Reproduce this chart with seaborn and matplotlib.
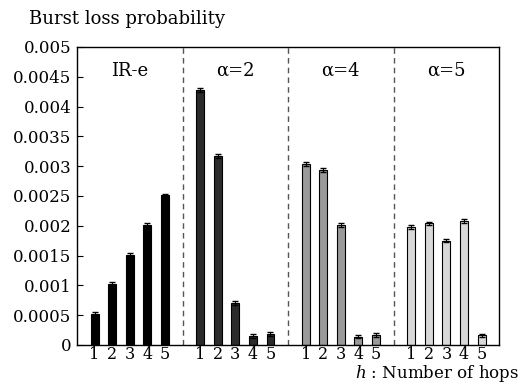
import numpy as np
import pandas as pd
import seaborn as sns
import matplotlib.pyplot as plt

# values
groups = ['IR-e', 'α=2', 'α=4', 'α=5']
hops = [1, 2, 3, 4, 5]
ir_e = [0.00052, 0.00103, 0.00151, 0.00202, 0.00251]
a2 = [0.00428, 0.00317, 0.00070, 0.00015, 0.00018]
a4 = [0.00304, 0.00294, 0.00201, 0.00014, 0.00017]
a5 = [0.00198, 0.00204, 0.00175, 0.00208, 0.00016]
err = 0.00003
colors = ['#000000', '#2b2b2b', '#9a9a9a', '#d8d8d8']

rows = []
for gi, (g, vals) in enumerate(zip(groups, [ir_e, a2, a4, a5])):
    for h, v in zip(hops, vals):
        rows.append((g, h, gi * 6 + h - 1, v))
df = pd.DataFrame(rows, columns=['group', 'hop', 'pos', 'prob'])

sns.set_style('ticks')
plt.rcParams['font.family'] = ['DejaVu Serif']
plt.rcParams['mathtext.fontset'] = 'dejavuserif'
plt.rcParams['text.color'] = 'black'
plt.rcParams['xtick.color'] = 'black'
plt.rcParams['ytick.color'] = 'black'
plt.rcParams['axes.edgecolor'] = 'black'

fig = plt.figure(figsize=(5.2, 3.85), dpi=100)
ax = fig.add_axes([0.148, 0.104, 0.812, 0.774])

sns.barplot(data=df, x='pos', y='prob', hue='group', palette=colors,
            native_scale=True, dodge=False, width=0.45, edgecolor='black',
            linewidth=0.8, errorbar=None, legend=False, ax=ax)
ax.errorbar(df['pos'], df['prob'], yerr=err, fmt='none', ecolor='black',
            elinewidth=0.8, capsize=2)

for d in [5, 11, 17]:
    ax.axvline(d, color='#555555', ls=(0, (4, 3)), lw=1)
for gi, g in enumerate(groups):
    ax.text(gi * 6 + 2, 0.0046, g, ha='center', va='center', fontsize=13)

ax.set_xlim(-1, 23)
ax.set_ylim(0, 0.005)
ax.set_xticks(df['pos'])
ax.set_xticklabels([str(h) for h in df['hop']], fontsize=11.5)
ax.tick_params(axis='x', length=0, pad=1)
yt = [0, 0.0005, 0.001, 0.0015, 0.002, 0.0025, 0.003, 0.0035, 0.004, 0.0045, 0.005]
ax.set_yticks(yt)
ax.set_yticklabels(['0'] + [repr(v) for v in yt[1:]], fontsize=12)
ax.tick_params(axis='y', direction='in', length=4, pad=4)
ax.set_xlabel('')
ax.set_ylabel('')
for s in ax.spines.values():
    s.set_linewidth(1)

fig.text(0.055, 0.95, 'Burst loss probability', fontsize=13, va='center')
fig.text(0.998, 0.002, '$h$ : Number of hops', fontsize=12, ha='right', va='bottom')

fig.savefig('out.png', dpi=100)
